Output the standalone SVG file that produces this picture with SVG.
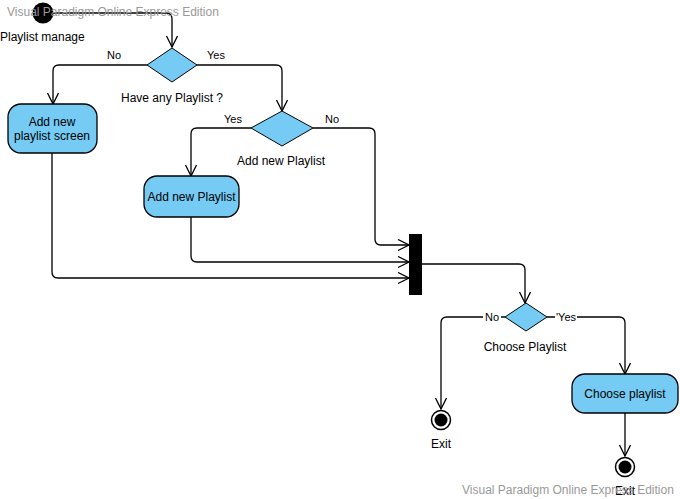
<svg xmlns="http://www.w3.org/2000/svg" width="680" height="499" viewBox="0 0 680 499">
<style>
.bg{fill:#ffffff}
.node{fill:#75CBF4;stroke:#000;stroke-width:1.3}
.dec{fill:#75CBF4;stroke:#000;stroke-width:1}
.conn{fill:none;stroke:#000;stroke-width:1.3}
.t{font-family:"Liberation Sans",Arial,sans-serif;font-size:12px;fill:#000}
.tc{text-anchor:middle}
.lbl{font-family:"Liberation Sans",Arial,sans-serif;font-size:11px;fill:#000}
.wm{font-family:"Liberation Sans",Arial,sans-serif;font-size:12px;fill:#999999}
</style>
<defs>
<marker id="arr" markerUnits="userSpaceOnUse" markerWidth="14" markerHeight="14" viewBox="0 0 14 14" refX="12" refY="6" orient="auto">
<path d="M1,0.5 L12,6 L1,11.5" fill="none" stroke="#000" stroke-width="1.3"/>
</marker>
</defs>
<rect class="bg" x="0" y="0" width="680" height="499"/>

<g id="start">
<circle cx="43" cy="13" r="10.5" fill="#000"/>
<text class="t" x="0" y="41">Playlist manage</text>
</g>

<g id="connectors">
<path class="conn" d="M53,13 L166,13 Q172,13 172,19 L172,47" marker-end="url(#arr)"/>
<path class="conn" d="M147,65 L59,65 Q53,65 53,71 L53,104" marker-end="url(#arr)"/>
<path class="conn" d="M197,65 L276,65 Q282,65 282,71 L282,111" marker-end="url(#arr)"/>
<path class="conn" d="M251,128 L197,128 Q191,128 191,134 L191,176" marker-end="url(#arr)"/>
<path class="conn" d="M313,128 L369,128 Q375,128 375,134 L375,239 Q375,245 381,245 L409,245" marker-end="url(#arr)"/>
<path class="conn" d="M191,217 L191,256 Q191,262 197,262 L409,262" marker-end="url(#arr)"/>
<path class="conn" d="M52,153 L52,272 Q52,278 58,278 L409,278" marker-end="url(#arr)"/>
<path class="conn" d="M422,264 L519,264 Q525,264 525,270 L525,303" marker-end="url(#arr)"/>
<path class="conn" d="M505,317 L447,317 Q441,317 441,323 L441,409" marker-end="url(#arr)"/>
<path class="conn" d="M547,317 L619,317 Q625,317 625,323 L625,374" marker-end="url(#arr)"/>
<path class="conn" d="M625,413 L625,456" marker-end="url(#arr)"/>
<text class="lbl tc" x="114" y="59">No</text>
<text class="lbl tc" x="216" y="59">Yes</text>
<text class="lbl tc" x="233" y="123">Yes</text>
<text class="lbl tc" x="332" y="123">No</text>
<rect x="483" y="310" width="18" height="13" fill="#fff"/>
<text class="lbl tc" x="492" y="321">No</text>
<rect x="555" y="310" width="22" height="13" fill="#fff"/>
<text class="lbl tc" x="566" y="321">'Yes</text>
</g>

<g id="wm-top"><text class="wm" x="7" y="16">Visual Paradigm Online Express Edition</text></g>

<g id="decision1">
<polygon class="dec" points="172,48 197,65 172,82 147,65"/>
<text class="t tc" x="172" y="102">Have any Playlist ?</text>
</g>

<g id="addScreen">
<rect class="node" x="8" y="104" width="89" height="49" rx="13" ry="13"/>
<text class="t tc" x="52" y="126">Add new</text>
<text class="t tc" x="52" y="140">playlist screen</text>
</g>

<g id="decision2">
<polygon class="dec" points="282,111 313,128 282,146 251,128"/>
<text class="t tc" x="281" y="165">Add new Playlist</text>
</g>

<g id="addPlaylist">
<rect class="node" x="144" y="176" width="95" height="41" rx="13" ry="13"/>
<text class="t tc" x="191.5" y="201">Add new Playlist</text>
</g>

<g id="join">
<rect x="409" y="234" width="13" height="61" fill="#000"/>
</g>

<g id="decision3">
<polygon class="dec" points="526,303 547,317 526,331 505,317"/>
<text class="t tc" x="525" y="351">Choose Playlist</text>
</g>

<g id="choose">
<rect class="node" x="572" y="374" width="106" height="39" rx="13" ry="13"/>
<text class="t tc" x="625" y="398">Choose playlist</text>
</g>

<g id="exit1">
<circle cx="441" cy="420" r="9.5" fill="#fff" stroke="#000" stroke-width="1.5"/>
<circle cx="441" cy="420" r="6.5" fill="#000"/>
<text class="t tc" x="441" y="448">Exit</text>
</g>

<g id="exit2">
<circle cx="625" cy="467" r="9.5" fill="#fff" stroke="#000" stroke-width="1.5"/>
<circle cx="625" cy="467" r="6.5" fill="#000"/>
<text class="t tc" x="625" y="495">Exit</text>
</g>

<g id="wm-bottom"><text class="wm" x="462" y="494">Visual Paradigm Online Express Edition</text></g>
</svg>
